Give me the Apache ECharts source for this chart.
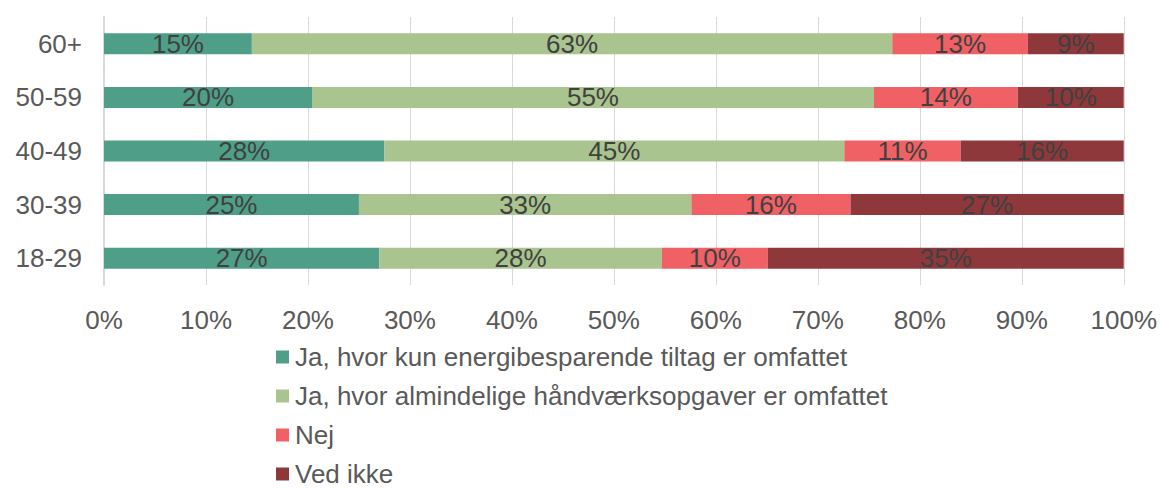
<!DOCTYPE html>
<html>
<head>
<meta charset="utf-8">
<script src="https://cdn.jsdelivr.net/npm/echarts@6/dist/echarts.min.js"></script>
<style>
  html, body { margin: 0; padding: 0; background: #fff; }
  #chart { width: 1160px; height: 488px; }
</style>
</head>
<body>
<div id="chart"></div>
<script>
// age groups, bottom to top
var groups = ['18-29', '30-39', '40-49', '50-59', '60+'];
var seriesNames = [
  'Ja, hvor kun energibesparende tiltag er omfattet',
  'Ja, hvor almindelige håndværksopgaver er omfattet',
  'Nej',
  'Ved ikke'
];
var energi   = [27.0, 25.0, 27.5, 20.4, 14.5];
var almind   = [27.7, 32.6, 45.1, 55.1, 62.8];
var nej      = [10.4, 15.6, 11.4, 14.1, 13.3];
var vedIkke  = [34.9, 26.8, 16.0, 10.4, 9.4];
var colors = ['#4f9f88', '#a9c48e', '#f06166', '#8f383c'];

(function() {
  var font = '"Liberation Sans", Arial, sans-serif';
  var chart = echarts.init(document.getElementById('chart'), null, { renderer: 'svg' });
  var values = [energi, almind, nej, vedIkke];

  var series = values.map(function(arr, i) {
    return {
      name: seriesNames[i],
      type: 'bar',
      stack: 'total',
      barWidth: 21,
      data: arr,
      itemStyle: { color: colors[i] },
      label: {
        show: true,
        position: 'inside',
        color: '#404040',
        fontFamily: font,
        fontSize: 26,
        formatter: function(p) { return Math.round(p.value) + '%'; }
      }
    };
  });

  chart.setOption({
    animation: false,
    textStyle: { fontFamily: font },
    grid: { left: 104, right: 36, top: 17, height: 268, containLabel: false },
    xAxis: {
      type: 'value',
      min: 0,
      max: 100,
      interval: 10,
      axisLine: { show: false },
      axisTick: { show: false },
      splitLine: { lineStyle: { color: '#d9d9d9', width: 1 } },
      axisLabel: { color: '#595959', fontFamily: font, fontSize: 26, margin: 22, formatter: '{value}%' }
    },
    yAxis: {
      type: 'category',
      data: groups,
      axisLine: { show: true, lineStyle: { color: '#d9d9d9', width: 2 } },
      axisTick: { show: false },
      axisLabel: { color: '#595959', fontFamily: font, fontSize: 26, margin: 22 }
    },
    legend: {
      orient: 'vertical',
      left: 276,
      top: 344,
      height: 170,
      padding: 0,
      itemWidth: 13,
      itemHeight: 13,
      itemGap: 13,
      icon: 'rect',
      textStyle: { color: '#595959', fontFamily: font, fontSize: 26, padding: [0, 0, 0, 1] },
      data: seriesNames
    },
    series: series
  });
})();
</script>
</body>
</html>
